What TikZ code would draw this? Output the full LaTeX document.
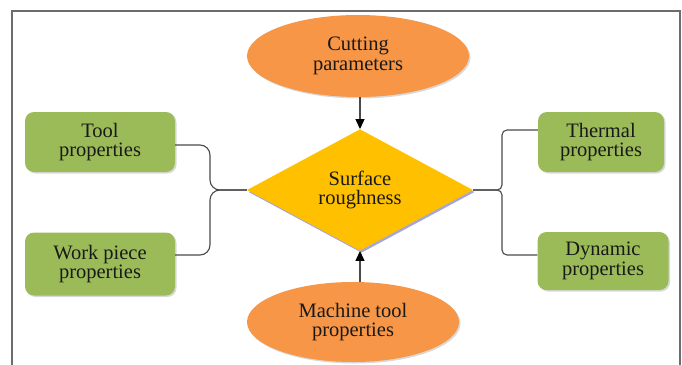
\documentclass[tikz,border=0pt]{standalone}
\usepackage{fontspec}
\setmainfont{Liberation Serif}
\newfontfamily\labelfont{Liberation Serif}
\usepackage{xcolor}
\usepackage{tikz}
\usetikzlibrary{shapes.geometric, arrows.meta, shadows, calc}

\definecolor{ellorange}{HTML}{F79646}
\definecolor{boxgreen}{HTML}{9BBB59}
\definecolor{diagold}{HTML}{FFC000}
\definecolor{linkgray}{HTML}{4A4A4A}

\begin{document}
\begin{tikzpicture}[
  x=1pt, y=-1pt,
  font=\labelfont\fontsize{20.5}{19.5}\selectfont,
  factor/.style = {ellipse, fill=ellorange, align=center, inner sep=0pt,
                   text=black!90,
                   drop shadow={shadow xshift=1.5pt, shadow yshift=-1.5pt,
                                opacity=0.3}},
  prop/.style   = {rectangle, rounded corners=9pt, fill=boxgreen,
                   align=center, inner sep=0pt, text=black!90,
                   drop shadow={shadow xshift=1.5pt, shadow yshift=-1.5pt,
                                opacity=0.3}},
  target/.style = {diamond, fill=diagold, align=center, inner sep=0pt,
                   text=black!90,
                   drop shadow={shadow xshift=1.5pt, shadow yshift=-2pt,
                                fill=blue!40!gray, opacity=0.5}},
  arr/.style    = {-{Triangle[length=10pt, width=9pt, fill=black, color=black]},
                   draw=linkgray, line width=1.1pt},
  link/.style   = {draw=linkgray, line width=1.1pt},
]

\useasboundingbox (0,0) rectangle (682,364);

%% Frame
\draw[gray!85!black, line width=1.8pt] (12,372) -- (12,11) -- (680,11) -- (680,372);

%% Centre
\node[target, minimum width=226pt, minimum height=116pt] (rough) at (360,190)
     {Surface\\roughness};

%% Factors above and below
\node[factor, minimum width=222pt, minimum height=82pt] (cutting) at (358,56)
     {Cutting\\parameters};
\node[factor, minimum width=212pt, minimum height=80pt] (machine) at (353,322)
     {Machine tool\\properties};

\draw[arr] (cutting.south -| rough.north) -- (rough.north);
\draw[arr] (machine.north -| rough.south) -- (rough.south);

%% Left properties
\node[prop, minimum width=150pt, minimum height=60pt] (tool) at (100,142)
     {Tool\\properties};
\node[prop, minimum width=150pt, minimum height=63pt] (work) at (100,264)
     {Work piece\\properties};

\coordinate (lbus) at (210,190);
\draw[link, rounded corners=10pt] ([yshift=-3pt]tool.east) -| (lbus) -- (rough.west);
\draw[link, rounded corners=10pt] ([yshift=9pt]work.east) -| (lbus) -- (rough.west);

%% Right properties
\node[prop, minimum width=126pt, minimum height=60pt] (thermal) at (601,142)
     {Thermal\\properties};
\node[prop, minimum width=131pt, minimum height=58pt] (dynamic) at (603,261)
     {Dynamic\\properties};

\coordinate (rbus) at (502,190);
\draw[link, rounded corners=5pt] (rough.east) -- (rbus) |- ([yshift=12pt]thermal.west);
\draw[link, rounded corners=5pt] (rough.east) -- (rbus) |- ([yshift=6pt]dynamic.west);

\end{tikzpicture}
\end{document}
